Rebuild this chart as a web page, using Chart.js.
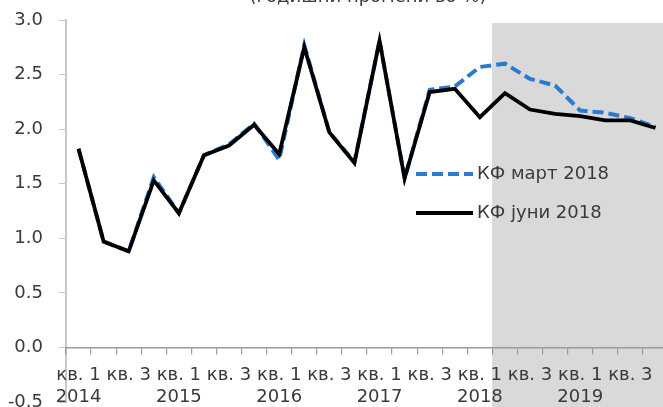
<!DOCTYPE html>
<html>
<head>
<meta charset="utf-8">
<script src="https://cdn.jsdelivr.net/npm/chart.js@4.4.0/dist/chart.umd.min.js"></script>
<style>
  html, body { margin: 0; padding: 0; background: #fff; overflow: hidden; }
  .wrap { width: 663px; height: 407px; overflow: hidden; }
</style>
</head>
<body>
<div class="wrap"><canvas class="chart" width="668" height="420"></canvas></div>
<script>
const years = ["2014", "2015", "2016", "2017", "2018", "2019"];
const quarters = ["кв. 1", "кв. 2", "кв. 3", "кв. 4"];
const titleText = "(годишни промени во %)";

const marchLabel = "КФ март 2018";
const marchValues = [1.82, 0.97, 0.88, 1.56, 1.23, 1.76, 1.86, 2.05, 1.72, 2.77, 1.97, 1.70,
                     2.81, 1.55, 2.36, 2.39, 2.57, 2.60, 2.46, 2.40, 2.17, 2.15, 2.10, 2.02];

const juneLabel = "КФ јуни 2018";
const juneValues = [1.82, 0.97, 0.88, 1.53, 1.23, 1.76, 1.85, 2.04, 1.77, 2.75, 1.97, 1.69,
                    2.81, 1.55, 2.34, 2.37, 2.11, 2.33, 2.18, 2.14, 2.12, 2.08, 2.08, 2.01];

// shaded forecast period (2018 кв. 2 onward)
const forecastStart = 17;
const forecastRange = [-0.6, 2.97];

const yTicks = [-0.5, 0.0, 0.5, 1.0, 1.5, 2.0, 2.5, 3.0];

const categories = [];
years.forEach((y) => {
  quarters.forEach((q) => {
    categories.push([q, y]);
  });
});
const forecastBand = categories.map((c, idx) => (idx >= forecastStart ? forecastRange : null));

const FONT = "DejaVu Sans";
const TEXT = "#3a3a3a";

// title sits above the picture, only its lower edge shows
const titlePlugin = {
  id: "cutTitle",
  afterDraw(chart) {
    const ctx = chart.ctx;
    ctx.save();
    ctx.font = `18px "${FONT}"`;
    ctx.fillStyle = TEXT;
    ctx.textAlign = "center";
    ctx.textBaseline = "alphabetic";
    ctx.fillText(titleText, 368, 2);
    ctx.restore();
  },
};

// legend drawn inside the plot
const legendPlugin = {
  id: "insideLegend",
  afterDatasetsDraw(chart) {
    const ctx = chart.ctx;
    const rows = [chart.data.datasets[0], chart.data.datasets[1]];
    rows.forEach((ds, i) => {
      const y = 174 + i * 39;
      ctx.save();
      ctx.strokeStyle = ds.borderColor;
      ctx.lineWidth = ds.borderWidth;
      ctx.setLineDash(ds.borderDash || []);
      ctx.beginPath();
      ctx.moveTo(416, y);
      ctx.lineTo(473, y);
      ctx.stroke();
      ctx.setLineDash([]);
      ctx.font = `18px "${FONT}"`;
      ctx.fillStyle = TEXT;
      ctx.textAlign = "left";
      ctx.textBaseline = "middle";
      ctx.fillText(ds.label, 477, y);
      ctx.restore();
    });
  },
};

const ctx = document.querySelector(".chart");
const myChart = new Chart(ctx, {
  data: {
    labels: categories,
    datasets: [
      {
        type: "line",
        label: marchLabel,
        data: marchValues,
        borderColor: "#2a7bd0",
        borderWidth: 4,
        borderDash: [11, 5],
        pointRadius: 0,
        tension: 0,
        order: 2,
      },
      {
        type: "line",
        label: juneLabel,
        data: juneValues,
        borderColor: "#000000",
        borderWidth: 3.8,
        pointRadius: 0,
        tension: 0,
        order: 1,
      },
      {
        type: "bar",
        label: "forecast",
        data: forecastBand,
        backgroundColor: "#d9d9d9",
        borderWidth: 0,
        barPercentage: 1,
        categoryPercentage: 1,
        clip: false,
        order: 3,
      },
    ],
  },
  options: {
    responsive: false,
    maintainAspectRatio: false,
    animation: false,
    layout: { padding: { top: 20, left: 0, right: 0, bottom: 18 } },
    plugins: {
      legend: { display: false },
      tooltip: { enabled: false },
    },
    scales: {
      x: {
        type: "category",
        offset: true,
        position: { y: 0 },
        border: { display: true, color: "#9a9a9a", width: 1.5, z: 1 },
        grid: {
          offset: true,
          drawOnChartArea: false,
          drawTicks: true,
          tickLength: 6,
          color: "#9a9a9a",
          lineWidth: 1.2,
          z: 1,
        },
        ticks: {
          z: 1,
          autoSkip: false,
          maxRotation: 0,
          minRotation: 0,
          padding: 11,
          color: TEXT,
          font: { family: FONT, size: 18 },
          callback: function (value, index) {
            const c = categories[index];
            if (index % 4 === 0) return [c[0], c[1]];
            if (index % 4 === 2) return c[0];
            return "";
          },
        },
      },
      y: {
        min: yTicks[0],
        max: yTicks[yTicks.length - 1],
        afterFit: (scale) => {
          scale.width = 66;
          scale.paddingTop = 0;
          scale.paddingBottom = 0;
        },
        afterBuildTicks: (scale) => {
          scale.ticks = yTicks.map((v) => ({ value: v }));
        },
        border: { display: true, color: "#c8c8c8", width: 2 },
        grid: {
          drawOnChartArea: false,
          drawTicks: true,
          tickLength: 7,
          color: "#c8c8c8",
        },
        ticks: {
          padding: 16,
          color: TEXT,
          font: { family: FONT, size: 18 },
          callback: (v) => Number(v).toFixed(1),
        },
      },
    },
  },
  plugins: [titlePlugin, legendPlugin],
});
</script>
</body>
</html>
